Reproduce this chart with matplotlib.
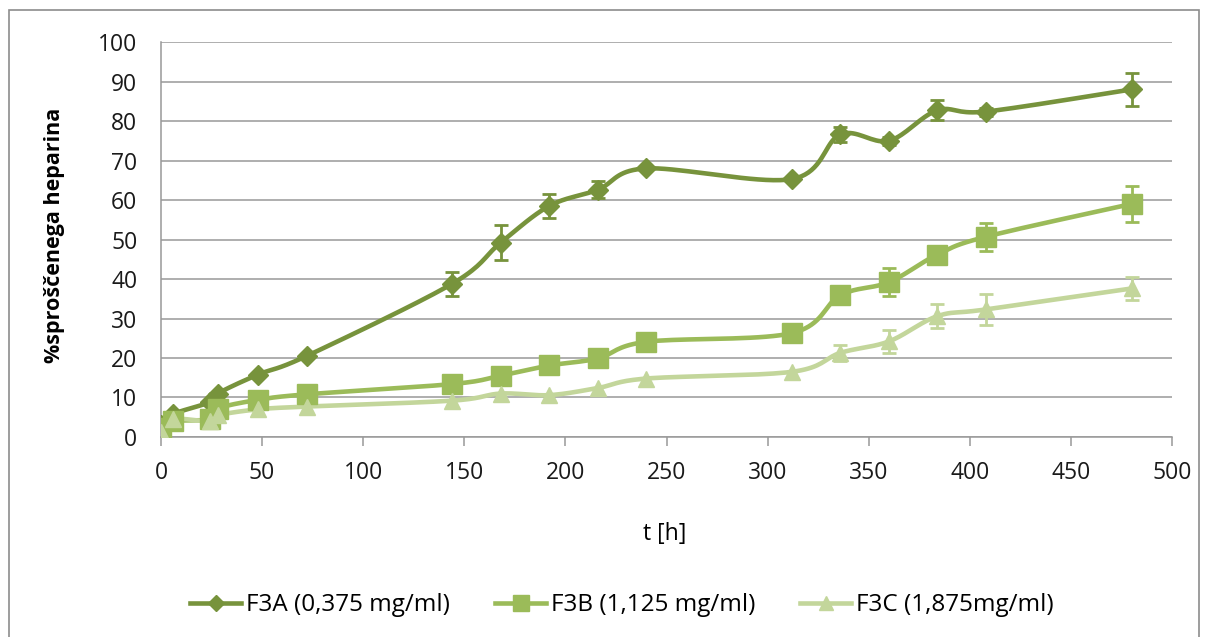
import numpy as np
import matplotlib
matplotlib.use("Agg")
import matplotlib.pyplot as plt
from matplotlib.lines import Line2D
from matplotlib.patches import Rectangle

plt.rcParams['font.family'] = ['Open Sans', 'DejaVu Sans']

# sampling times [h]
t = [0, 6, 24, 28, 48, 72, 144, 168, 192, 216, 240, 312, 336, 360, 384, 408, 480]

f3a = [3.0, 5.8, 8.8, 11.0, 15.8, 20.5, 38.8, 49.2, 58.5, 62.6, 68.0, 65.3, 76.6, 75.0, 82.7, 82.4, 88.0]
f3a_err = [0, 0, 0, 0, 0, 0, 3.0, 4.4, 3.0, 2.2, 0, 0, 1.8, 1.0, 2.5, 1.0, 4.2]

f3b = [2.2, 4.0, 4.5, 7.2, 9.4, 10.8, 13.4, 15.5, 18.1, 19.9, 24.1, 26.3, 35.9, 39.2, 46.2, 50.7, 59.0]
f3b_err = [0, 0, 0, 0, 0, 0, 0, 0, 0, 0, 0, 0, 0, 3.6, 0, 3.6, 4.6]

f3c = [1.2, 4.5, 4.0, 5.5, 7.0, 7.7, 9.2, 11.0, 10.6, 12.4, 14.8, 16.5, 21.3, 24.2, 30.6, 32.3, 37.6]
f3c_err = [0, 0, 0, 0, 0, 0, 0, 0, 0, 0, 0, 0, 2.0, 3.0, 3.0, 4.0, 2.8]

labels = ['F3A (0,375 mg/ml)', 'F3B (1,125 mg/ml)', 'F3C (1,875mg/ml)']
colors = ['#77933C', '#9BBB59', '#C3D69B']
markers = ['D', 's', '^']
msizes = [10, 14, 12]


def smooth(x, y, n=20):
    # Catmull-Rom style bezier smoothing between consecutive points
    x = np.asarray(x, float)
    y = np.asarray(y, float)
    px = np.concatenate([[x[0]], x, [x[-1]]])
    py = np.concatenate([[y[0]], y, [y[-1]]])
    xs, ys = [], []
    s = np.linspace(0, 1, n)
    for i in range(1, len(px) - 2):
        p0 = np.array([px[i - 1], py[i - 1]])
        p1 = np.array([px[i], py[i]])
        p2 = np.array([px[i + 1], py[i + 1]])
        p3 = np.array([px[i + 2], py[i + 2]])
        c1 = p1 + (p2 - p0) / 6
        c2 = p2 - (p3 - p1) / 6
        b = ((1 - s) ** 3)[:, None] * p1 + (3 * (1 - s) ** 2 * s)[:, None] * c1 \
            + (3 * (1 - s) * s ** 2)[:, None] * c2 + (s ** 3)[:, None] * p2
        xs.extend(b[:, 0])
        ys.extend(b[:, 1])
    return xs, ys


fig = plt.figure(figsize=(12.08, 6.37), dpi=100)
fig.patches.append(Rectangle((0.0075, -0.01), 0.985, 0.994, transform=fig.transFigure,
                             fill=False, edgecolor='#8c8c8c', linewidth=1.2))

ax = fig.add_axes([0.1333, 0.314, 0.8369, 0.620])

data = [(f3a, f3a_err), (f3b, f3b_err), (f3c, f3c_err)]
for k in [2, 1, 0]:
    y, err = data[k]
    sx, sy = smooth(t, y)
    ax.plot(sx, sy, color=colors[k], lw=3.3, zorder=3 + k * 0.1, solid_capstyle='round')
    ax.plot(t, y, linestyle='none', marker=markers[k], ms=msizes[k], color=colors[k],
            mec=colors[k], zorder=4 + k * 0.1)
    e = np.array(err)
    idx = e > 0
    ax.errorbar(np.array(t)[idx], np.array(y)[idx], yerr=e[idx], fmt='none',
                ecolor=colors[k], elinewidth=2, capsize=5, capthick=2, zorder=5)

ax.set_xlim(0, 500)
ax.set_ylim(0, 100)
ax.set_xticks(range(0, 501, 50))
ax.set_yticks(range(0, 101, 10))
ax.yaxis.grid(True, color='#999999', linewidth=1.1)
ax.set_axisbelow(True)
for sp in ['top', 'right']:
    ax.spines[sp].set_visible(False)
for sp in ['left', 'bottom']:
    ax.spines[sp].set_color('#999999')
    ax.spines[sp].set_linewidth(1.1)
ax.tick_params(axis='both', colors='#999999', labelcolor='#1a1a1a', labelsize=16.5,
               width=1.1)
ax.tick_params(axis='x', length=6.5, pad=11)
ax.tick_params(axis='y', length=0, pad=17)

ax.set_xlabel('t [h]', fontsize=16.5)
ax.xaxis.set_label_coords(0.4985, -0.215)
ax.set_ylabel('%sproščenega heparina', fontsize=15.5, fontweight='bold')
ax.yaxis.set_label_coords(-0.095, 0.51)

handles = [Line2D([], [], color=colors[k], lw=3.3, marker=markers[k], ms=msizes[k] * 0.8)
           for k in range(3)]
fig.legend(handles, labels, loc='center', bbox_to_anchor=(0.515, 0.05), ncol=3,
           frameon=False, fontsize=17.5, handlelength=2.1, handletextpad=0.2,
           columnspacing=1.85)

fig.savefig('out.png', dpi=100)
